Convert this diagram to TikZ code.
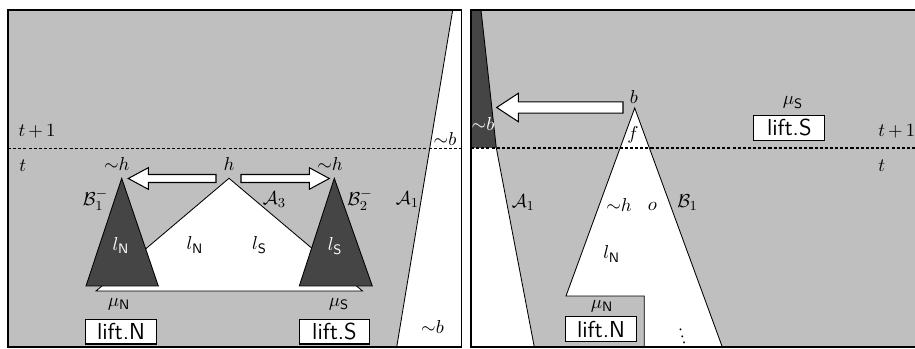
\documentclass[tikz,border=0pt]{standalone}
\usepackage{fontspec}
\begin{document}
\begin{tikzpicture}[x=0.585pt,y=-0.585pt,
  every node/.style={font=\fontsize{10.95}{13}\selectfont},
  frame/.style={draw=black,line width=0.8pt},
  bggray/.style={fill=black!25},
  dkfill/.style={fill=black!73},
  dk/.style={fill=black!73,draw=black,line width=0.5pt},
  wt/.style={fill=white,draw=black,line width=0.5pt},
  thin line/.style={draw=black,line width=0.5pt},
  blockarrow/.style={fill=white,draw=black,line width=0.6pt,line join=miter},
  sepline/.style={draw=black,dash pattern=on 1.8pt off 1.2pt,line width=0.6pt},
  lbl/.style={inner sep=0pt},
  wlbl/.style={inner sep=0pt,text=white},
  liftbox/.style={draw=black,fill=white,line width=0.6pt,inner sep=0pt,
    minimum width=41.5pt,minimum height=14.4pt,
    font=\fontsize{13.5}{16}\selectfont\sffamily}]
\useasboundingbox (0,0) rectangle (915,349);

% ---------------- left panel ----------------
\fill[bggray] (8,10) rectangle (461.7,347);
\fill[white] (452.7,10) -- (461.7,10) -- (461.7,347) -- (396.7,347) -- cycle;
\draw[thin line] (452.7,10) -- (396.7,347);
\draw[sepline] (8,148.3) -- (461.7,148.3);
\draw[wt] (229,178.3) -- (362.5,291) -- (96,291) -- cycle;
\draw[dk] (121.7,178.3) -- (158.3,286) -- (86,286) -- cycle;
\draw[dk] (334.3,178.3) -- (372.3,286) -- (299.3,286) -- cycle;
\draw[blockarrow] (216,174.5) -- (148.3,174.5) -- (148.3,167.7) -- (128.3,178.5)
  -- (148.3,189.3) -- (148.3,182.5) -- (216,182.5) -- cycle;
\draw[blockarrow] (241,174.5) -- (309.3,174.5) -- (309.3,167.7) -- (329.3,178.5)
  -- (309.3,189.3) -- (309.3,182.5) -- (241,182.5) -- cycle;
\draw[frame] (8,10) rectangle (461.7,347);

\node[lbl] (tp1L) at (37,131) {$t\,{+}\,1$};
\node[lbl] (tL) at (22.7,165.5) {$t$};
\node[lbl] (nhL) at (116.7,164) {${\sim}h$};
\node[lbl] (hL) at (229,164) {$h$};
\node[lbl] (nhR) at (330,164) {${\sim}h$};
\node[lbl] (B1m) at (95.5,199.5) {$\mathcal{B}_1^-$};
\node[lbl] (A3) at (274.5,200) {$\mathcal{A}_3$};
\node[lbl] (B2m) at (360,199.5) {$\mathcal{B}_2^-$};
\node[lbl] (A1L) at (407.5,200) {$\mathcal{A}_1$};
\node[lbl] (nbtop) at (445,139) {${\sim}b$};
\node[lbl] (nbbot) at (432.5,327) {${\sim}b$};
\node[wlbl] (lNd) at (121,245.7) {$l_{\mathsf{N}}$};
\node[lbl] (lNw) at (195,245) {$l_{\mathsf{N}}$};
\node[lbl] (lSw) at (259.5,245) {$l_{\mathsf{S}}$};
\node[wlbl] (lSd) at (335,246) {$l_{\mathsf{S}}$};
\node[lbl] (muNL) at (119,304) {$\mu_{\mathsf{N}}$};
\node[lbl] (muSL) at (339,304) {$\mu_{\mathsf{S}}$};
\node[liftbox] (liftNL) at (121,331.7) {lift.N};
\node[liftbox] (liftSL) at (334.5,331.7) {lift.S};

% ---------------- right panel ----------------
\fill[bggray] (471,10) rectangle (918,347);
\fill[dkfill] (471,10) -- (481,10) -- (496.3,148) -- (471,148) -- cycle;
\fill[white] (471,148) -- (496.3,148) -- (534.3,347) -- (471,347) -- cycle;
\draw[thin line] (481,10) -- (496.3,148) -- (534.3,347);
\fill[white] (634.7,108) -- (722.3,347) -- (644.3,347) -- (644.3,296) -- (566,296) -- cycle;
\draw[thin line] (722.3,347) -- (634.7,108) -- (566,296) -- (644.3,296) -- (644.3,347);
\draw[sepline] (471,148) -- (918,148);
\draw[blockarrow] (623,101.8) -- (518.3,101.8) -- (518.3,93.3) -- (496.7,107.5)
  -- (518.3,121.7) -- (518.3,113.2) -- (623,113.2) -- cycle;
\draw[frame] (471,10) rectangle (918,347);

\node[lbl] (bR) at (634,97.5) {$b$};
\node[lbl] (fR) at (633,135) {$f$};
\node[wlbl] (nbR) at (483,124) {${\sim}b$};
\node[lbl] (A1R) at (523.3,202.5) {$\mathcal{A}_1$};
\node[lbl] (nhRR) at (619,205) {${\sim}h$};
\node[lbl] (oR) at (652.5,206.5) {$o$};
\node[lbl] (B1R) at (687.5,203) {$\mathcal{B}_1$};
\node[lbl] (lNR) at (611.7,254) {$l_{\mathsf{N}}$};
\node[lbl] (muNR) at (602,306.5) {$\mu_{\mathsf{N}}$};
\node[liftbox] (liftNR) at (601,329.2) {lift.N};
\node[lbl,rotate=15] (dotsR) at (681,331.5) {$\vdots$};
\node[lbl] (muSR) at (793,102.5) {$\mu_{\mathsf{S}}$};
\node[liftbox] (liftSR) at (789.3,127.8) {lift.S};
\node[lbl] (tp1R) at (896.7,131) {$t\,{+}\,1$};
\node[lbl] (tR) at (881.7,165.5) {$t$};
\end{tikzpicture}
\end{document}
